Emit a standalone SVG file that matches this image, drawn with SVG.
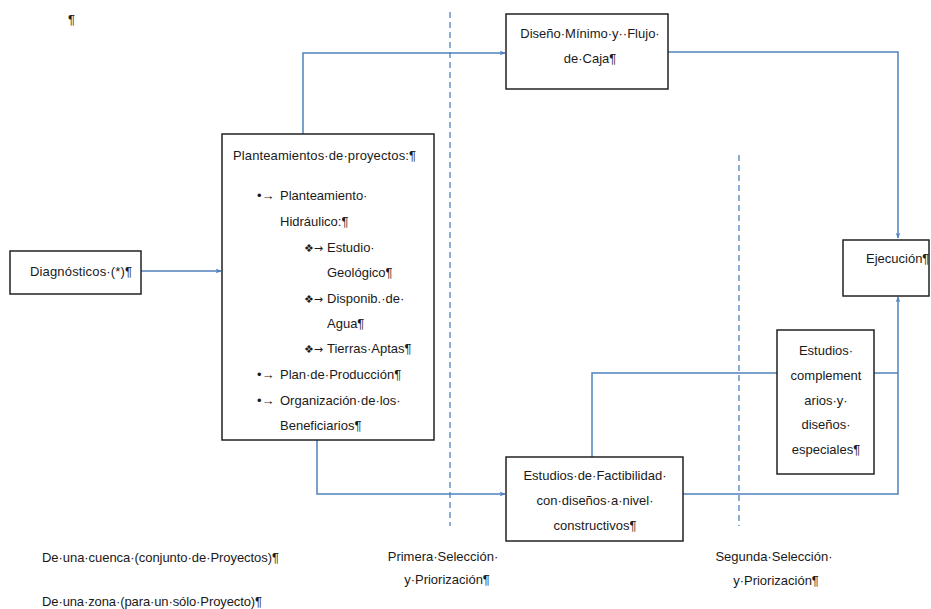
<svg xmlns="http://www.w3.org/2000/svg" width="931" height="609" viewBox="0 0 931 609">
<style>
text{font-family:"Liberation Sans",Arial,sans-serif;font-size:13px;fill:#1a1a1a}
.box{fill:#fff;stroke:#222;stroke-width:1.5}
.c{fill:none;stroke:#4f81bd;stroke-width:1.5}
.d{fill:none;stroke:#4f81bd;stroke-width:1.3;stroke-dasharray:6 4}
.m{text-anchor:middle}
</style>
<defs>
<marker id="ah" viewBox="0 0 10 10" refX="9" refY="5" markerWidth="6" markerHeight="6" orient="auto" markerUnits="userSpaceOnUse">
<path d="M0,1 L10,5 L0,9 L3,5 Z" fill="#4f81bd"/>
</marker>
</defs>
<text x="68" y="24">¶</text>
<g id="separators">
<line class="d" x1="450" y1="12" x2="450" y2="526"/>
<line class="d" x1="739" y1="155" x2="739" y2="526"/>
</g>
<g id="connectors">
<path class="c" d="M141,271 H221" marker-end="url(#ah)"/>
<path class="c" d="M303,134 V53 H505" marker-end="url(#ah)"/>
<path class="c" d="M317,440 V494 H505" marker-end="url(#ah)"/>
<path class="c" d="M668,52 H898 V238" marker-end="url(#ah)"/>
<path class="c" d="M683,494 H898 V297" marker-end="url(#ah)"/>
<path class="c" d="M592,457 V373 H777"/>
<path class="c" d="M874,373 H898"/>
</g>
<g id="diagnosticos">
<rect class="box" x="10" y="251" width="131" height="43"/>
<text x="30" y="276" textLength="102">Diagnósticos·(*)¶</text>
</g>
<g id="planteamientos">
<rect class="box" x="222" y="134" width="212" height="306"/>
<text x="233" y="160" textLength="183">Planteamientos·de·proyectos:¶</text>
<text x="257" y="200">•→</text>
<text x="280" y="200">Planteamiento·</text>
<text x="280" y="226">Hidráulico:¶</text>
<text x="304" y="252" style="font-family:'DejaVu Sans',sans-serif;font-size:11px">❖→</text>
<text x="327" y="252">Estudio·</text>
<text x="327" y="277">Geológico¶</text>
<text x="304" y="303" style="font-family:'DejaVu Sans',sans-serif;font-size:11px">❖→</text>
<text x="327" y="303">Disponib.·de·</text>
<text x="327" y="328">Agua¶</text>
<text x="304" y="353" style="font-family:'DejaVu Sans',sans-serif;font-size:11px">❖→</text>
<text x="327" y="353">Tierras·Aptas¶</text>
<text x="257" y="379">•→</text>
<text x="280" y="379">Plan·de·Producción¶</text>
<text x="257" y="405">•→</text>
<text x="280" y="405">Organización·de·los·</text>
<text x="280" y="430">Beneficiarios¶</text>
</g>
<g id="diseno">
<rect class="box" x="506" y="14" width="162" height="75"/>
<text class="m" x="590" y="38">Diseño·Mínimo·y··Flujo·</text>
<text class="m" x="590" y="63">de·Caja¶</text>
</g>
<g id="ejecucion">
<rect class="box" x="843" y="240" width="86" height="56"/>
<text x="866" y="263">Ejecución¶</text>
</g>
<g id="complementarios">
<rect class="box" x="777" y="330" width="97" height="144"/>
<text class="m" x="826" y="355">Estudios·</text>
<text class="m" x="826" y="380">complement</text>
<text class="m" x="826" y="405">arios·y·</text>
<text class="m" x="826" y="429">diseños·</text>
<text class="m" x="826" y="454">especiales¶</text>
</g>
<g id="factibilidad">
<rect class="box" x="506" y="457" width="177" height="84"/>
<text class="m" x="595" y="480">Estudios·de·Factibilidad·</text>
<text class="m" x="595" y="505">con·diseños·a·nivel·</text>
<text class="m" x="595" y="530">constructivos¶</text>
</g>
<g id="labels">
<text x="42" y="562" textLength="237">De·una·cuenca·(conjunto·de·Proyectos)¶</text>
<text x="42" y="606" textLength="220">De·una·zona·(para·un·sólo·Proyecto)¶</text>
<text class="m" x="443" y="561">Primera·Selección·</text>
<text class="m" x="447" y="584">y·Priorización¶</text>
<text class="m" x="774" y="561">Segunda·Selección·</text>
<text class="m" x="776" y="585">y·Priorización¶</text>
</g>
</svg>
